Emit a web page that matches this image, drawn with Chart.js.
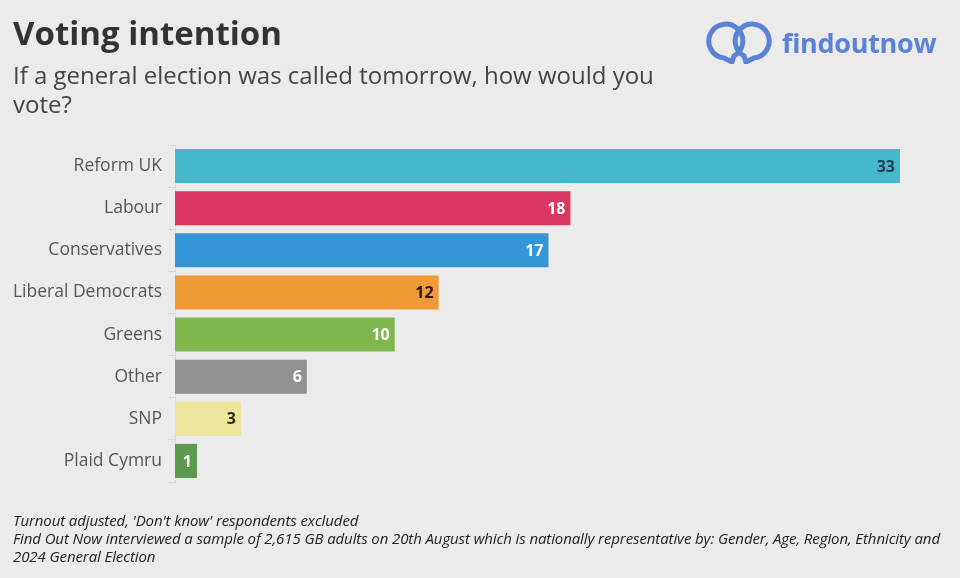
<!DOCTYPE html>
<html><head><meta charset="utf-8">
<script src="https://cdn.jsdelivr.net/npm/chart.js@4"></script>
<style>
html,body{margin:0;padding:0;background:#ebebeb;width:960px;height:578px;overflow:hidden;font-family:"Open Sans",sans-serif;}
#wrap{position:relative;width:960px;height:578px;}
#c{position:absolute;left:0;top:0;}
.t{position:absolute;left:13px;top:10px;font-size:33px;font-weight:700;color:#333;}
.s{position:absolute;left:13px;top:60px;font-size:24px;color:#444;line-height:29px;width:670px;}
.f{position:absolute;left:13px;top:511px;font-size:15px;font-style:italic;color:#222;line-height:18px;width:940px;letter-spacing:-0.1px;}
.logo{position:absolute;left:706px;top:20px;height:44px;display:flex;align-items:center;}
.logo span{font-size:27px;font-weight:700;color:#5a83d8;margin-left:10px;letter-spacing:-0.3px;}
</style></head>
<body><div id="wrap">
<canvas id="c" width="960" height="578"></canvas>
<div class="t">Voting intention</div>
<div class="s">If a general election was called tomorrow, how would you vote?</div>
<div class="logo"><svg width="66" height="44" viewBox="0 0 66 44"><g fill="none" stroke="#5a83d8" stroke-width="5"><path d="M18 38 A17 17 0 1 1 28 36 L26 42 Z"/><path d="M48 38 A17 17 0 1 0 38 36 L40 42 Z"/></g></svg><span>findoutnow</span></div>
<div class="f">Turnout adjusted, 'Don't know' respondents excluded<br>Find Out Now interviewed a sample of 2,615 GB adults on 20th August which is nationally representative by: Gender, Age, Region, Ethnicity and 2024 General Election</div>
</div>
<script>
const categories = ["Reform UK","Labour","Conservatives","Liberal Democrats","Greens","Other","SNP","Plaid Cymru"];
const values = [33,18,17,12,10,6,3,1];
const barColors = ["#45b8cc","#dc3763","#3695d6","#ef9a37","#80b64e","#919191","#ede59a","#5b9a4e"];
const labelColors = ["#1d3c4a","#ffffff","#ffffff","#2b1a0a","#ffffff","#ffffff","#2a2a10","#ffffff"];

const valuePlugin = {
  id:'vals',
  afterDatasetsDraw(chart){
    const ctx = chart.ctx;
    const meta = chart.getDatasetMeta(0);
    ctx.save();
    ctx.font = "700 16px 'Open Sans', sans-serif";
    ctx.textAlign = 'right';
    ctx.textBaseline = 'middle';
    meta.data.forEach((bar,i)=>{
      ctx.fillStyle = labelColors[i];
      ctx.fillText(String(values[i]), bar.x - 5, bar.y + 1);
    });
    ctx.restore();
  }
};

new Chart(document.getElementById('c'), {
  type:'bar',
  data:{labels:categories,datasets:[{data:values,backgroundColor:barColors,borderWidth:0,barPercentage:0.81,categoryPercentage:1}]},
  options:{
    indexAxis:'y',responsive:false,animation:false,
    layout:{padding:{top:145,bottom:96,left:0,right:60}},
    plugins:{legend:{display:false},tooltip:{enabled:false}},
    scales:{
      x:{display:false,min:0,max:33},
      y:{
        afterFit(s){s.width=175;},
        border:{display:true,color:'#d8d8d8',width:1},
        grid:{drawOnChartArea:false,tickLength:7,color:'#d8d8d8'},
        ticks:{color:'#555',font:{family:"'Open Sans', sans-serif",size:17.5},padding:6}
      }
    }
  },
  plugins:[valuePlugin]
});
</script>
</body></html>
